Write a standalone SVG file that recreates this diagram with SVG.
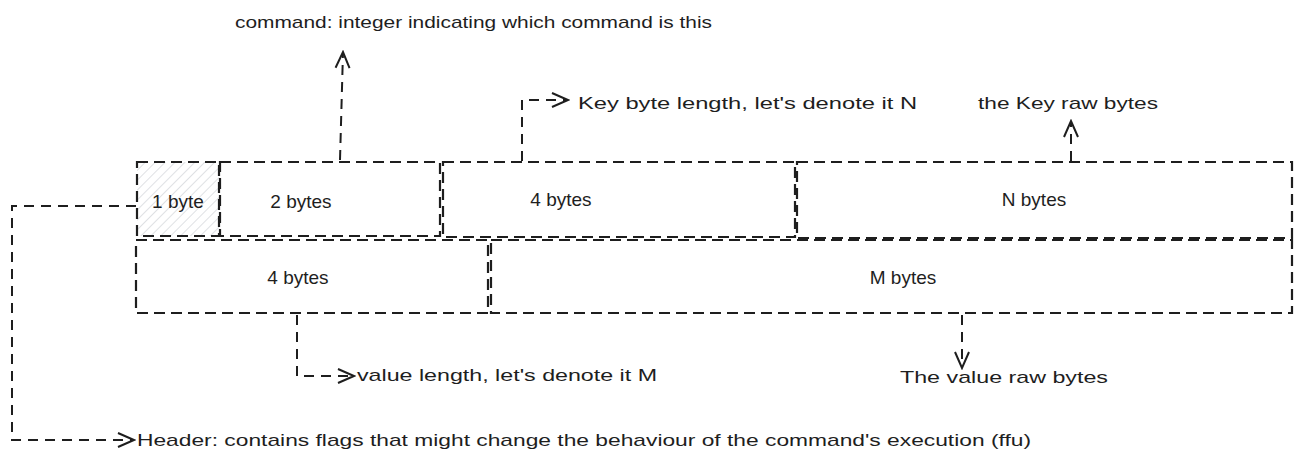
<svg xmlns="http://www.w3.org/2000/svg" width="1305" height="464" viewBox="0 0 1305 464">
<style>
.box{fill:none;stroke:#1e1e1e;stroke-width:2.2;stroke-dasharray:11 6;}
.hatched{fill:url(#hatch);}
.con{fill:none;stroke:#1e1e1e;stroke-width:2;stroke-dasharray:10 7;}
.t{font-family:"Comic Sans MS","Liberation Sans",sans-serif;font-size:17px;fill:#1e1e1e;}
.b{font-size:19px;}
</style>
<defs>
<pattern id="hatch" width="7" height="7" patternUnits="userSpaceOnUse" patternTransform="rotate(45)">
<line x1="0" y1="0" x2="0" y2="7" stroke="#c9cdd2" stroke-width="1.2"/>
</pattern>
<marker id="arr" viewBox="0 0 20 20" refX="18" refY="10" markerWidth="20" markerHeight="20" markerUnits="userSpaceOnUse" orient="auto">
<path d="M2,3 L18,10 L2,17" fill="none" stroke="#1e1e1e" stroke-width="2"/>
</marker>
</defs>
<rect width="1305" height="464" fill="#ffffff"/>
<g id="connectors">
<path class="con" d="M340,160 L343,52" marker-end="url(#arr)"/>
<path class="con" d="M522,161 L522,100 L568,100" marker-end="url(#arr)"/>
<path class="con" d="M1071,161 L1071,121" marker-end="url(#arr)"/>
<path class="con" d="M297,315 L297,376 L354,376" marker-end="url(#arr)"/>
<path class="con" d="M962,315 L962,368" marker-end="url(#arr)"/>
<path class="con" d="M136,206 L12,206 L12,440 L134,440" marker-end="url(#arr)"/>
</g>
<g id="byte1">
<rect x="137" y="162" width="82" height="74" class="box hatched"/>
<text class="t b" x="178" y="208" text-anchor="middle">1 byte</text>
</g>
<g id="bytes2">
<rect x="220" y="162" width="220" height="74" class="box"/>
<text class="t b" x="301" y="208" text-anchor="middle">2 bytes</text>
</g>
<g id="bytes4top">
<rect x="443" y="162" width="352" height="75" class="box"/>
<text class="t b" x="561" y="206" text-anchor="middle">4 bytes</text>
</g>
<g id="bytesN">
<rect x="797" y="162" width="495" height="76" class="box"/>
<text class="t b" x="1034" y="206" text-anchor="middle">N bytes</text>
</g>
<g id="bytes4bottom">
<rect x="136" y="240" width="352" height="73" class="box"/>
<text class="t b" x="298" y="284" text-anchor="middle">4 bytes</text>
</g>
<g id="bytesM">
<rect x="491" y="240" width="801" height="73" class="box"/>
<text class="t b" x="903" y="284" text-anchor="middle">M bytes</text>
</g>
<g id="label-command">
<text class="t" x="235" y="28" textLength="477" lengthAdjust="spacingAndGlyphs">command: integer indicating which command is this</text>
</g>
<g id="label-keylen">
<text class="t" x="578" y="109" textLength="339" lengthAdjust="spacingAndGlyphs">Key byte length, let's denote it N</text>
</g>
<g id="label-keyraw">
<text class="t" x="978" y="109" textLength="180" lengthAdjust="spacingAndGlyphs">the Key raw bytes</text>
</g>
<g id="label-vallen">
<text class="t" x="357" y="381" textLength="300" lengthAdjust="spacingAndGlyphs">value length, let's denote it M</text>
</g>
<g id="label-valraw">
<text class="t" x="900" y="383" textLength="208" lengthAdjust="spacingAndGlyphs">The value raw bytes</text>
</g>
<g id="label-header">
<text class="t" x="137" y="446" textLength="894" lengthAdjust="spacingAndGlyphs">Header: contains flags that might change the behaviour of the command's execution (ffu)</text>
</g>
</svg>
